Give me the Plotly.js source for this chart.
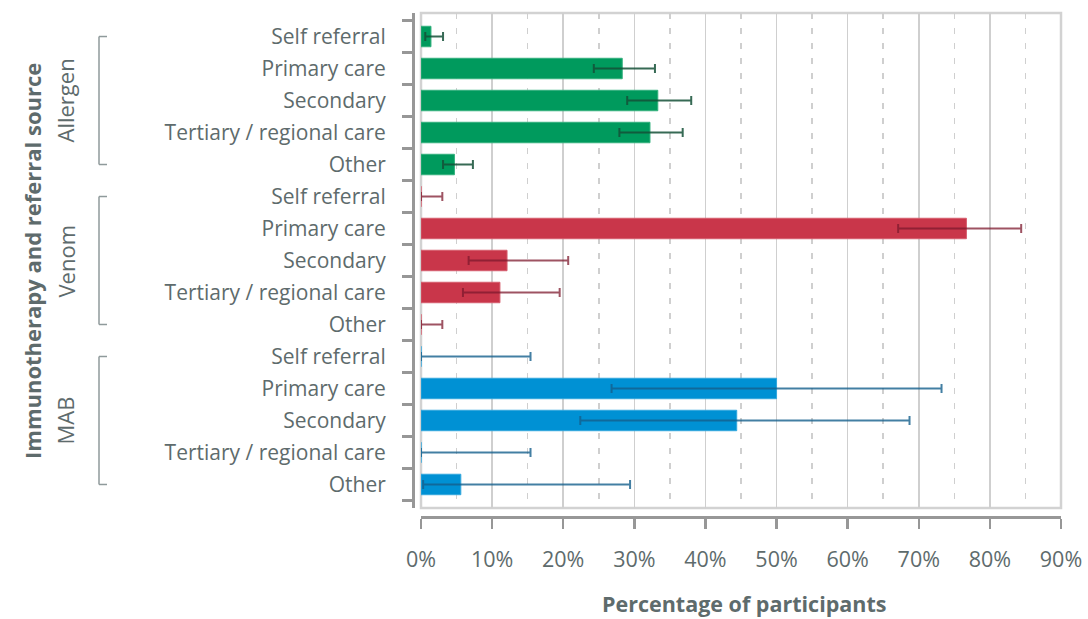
<!DOCTYPE html>
<html>
<head>
<meta charset="utf-8">
<script src="https://cdn.plot.ly/plotly-3.0.1.min.js"></script>
<style>
  html, body { margin: 0; padding: 0; background: #ffffff; }
  #chart { width: 1088px; height: 619px; }
</style>
</head>
<body>
<div id="chart"></div>
<script>
// ---- Data ----
const groups = ["Allergen", "Venom", "MAB"];
const sources = ["Self referral", "Primary care", "Secondary", "Tertiary / regional care", "Other"];

const allergenPct = [1.4, 28.3, 33.3, 32.2, 4.7];
const allergenLo  = [0.6, 24.3, 29.0, 27.9, 3.1];
const allergenHi  = [3.1, 32.9, 38.0, 36.8, 7.3];

const venomPct = [0, 76.7, 12.1, 11.1, 0];
const venomLo  = [0, 67.1, 6.7, 5.9, 0];
const venomHi  = [3.0, 84.4, 20.7, 19.5, 3.0];

const mabPct = [0, 50.0, 44.4, 0, 5.6];
const mabLo  = [0, 26.8, 22.4, 0, 0.3];
const mabHi  = [15.4, 73.2, 68.7, 15.4, 29.4];

const xTickVals = [0, 10, 20, 30, 40, 50, 60, 70, 80, 90];
const xTitle = "Percentage of participants";
const yTitle = "Immunotherapy and referral source";

// ---- Styles ----
const barColors = ["#009a5d", "#c9364a", "#0091d4"];
const barEdge   = ["#33b07d", "#d65e6e", "#33a7dd"];
const errColors = ["rgba(20,80,55,0.85)", "rgba(125,25,45,0.75)", "rgba(20,95,140,0.8)"];
const textColor = "#5e6b6c";
const font = "Open Sans, Noto Sans, sans-serif";

const series = [
  [allergenPct, allergenLo, allergenHi],
  [venomPct, venomLo, venomHi],
  [mabPct, mabLo, mabHi]
];

const keyOf = (g, s) => g + " | " + s;
const allKeys = [];
const allLabels = [];
groups.forEach(g => sources.forEach(s => { allKeys.push(keyOf(g, s)); allLabels.push(s); }));

const traces = groups.map((g, gi) => {
  const [pct, lo, hi] = series[gi];
  return {
    type: "bar",
    orientation: "h",
    name: g,
    y: sources.map(s => keyOf(g, s)),
    x: pct,
    width: 0.64,
    marker: { color: barColors[gi], line: { color: barEdge[gi], width: 1 } },
    error_x: {
      type: "data",
      symmetric: false,
      array: hi.map((v, i) => v - pct[i]),
      arrayminus: pct.map((v, i) => v - lo[i]),
      color: errColors[gi],
      thickness: 2,
      width: 4.5
    },
    hoverinfo: "x+y",
    showlegend: false
  };
});

// Layout geometry (pixels -> paper)
const W = 1088, H = 619;
const mL = 413, mR = 27, mT = 13, mB = 102;
const pw = W - mL - mR, ph = H - mT - mB;
const px = p => (p - mL) / pw;
const py = p => (H - mB - p) / ph;

const shapes = [
  { type: "rect", xref: "x domain", yref: "y domain", x0: 0, x1: 1, y0: 0, y1: 1,
    line: { color: "#d2d2d2", width: 2.5 }, layer: "below" }
];
// group brackets
groups.forEach(g => {
  const first = keyOf(g, sources[0]);
  const last = keyOf(g, sources[sources.length - 1]);
  const bx = px(99), ax = px(107);
  const ln = { color: "#8f9a9b", width: 1.5 };
  shapes.push({ type: "line", xref: "paper", yref: "y", x0: bx, x1: bx, y0: first, y1: last, line: ln });
  shapes.push({ type: "line", xref: "paper", yref: "y", x0: bx, x1: ax, y0: first, y1: first, line: ln });
  shapes.push({ type: "line", xref: "paper", yref: "y", x0: bx, x1: ax, y0: last, y1: last, line: ln });
});

const annotations = groups.map(g => ({
  xref: "paper", yref: "y", x: px(65), y: keyOf(g, sources[2]),
  text: g, textangle: -90, showarrow: false,
  xanchor: "center", yanchor: "middle",
  font: { family: font, size: 22, color: textColor }
}));
annotations.push({
  xref: "paper", yref: "paper", x: px(744), y: py(603),
  text: "<b>" + xTitle + "</b>", showarrow: false, xanchor: "center", yanchor: "middle",
  borderpad: 0,
  font: { family: font, size: 21.5, color: textColor }
});
annotations.push({
  xref: "paper", yref: "paper", x: px(32), y: py(261),
  text: "<b>" + yTitle + "</b>", textangle: -90, showarrow: false, xanchor: "center", yanchor: "middle",
  font: { family: font, size: 22, color: textColor }
});

const n = allKeys.length;
const layout = {
  width: W, height: H,
  margin: { l: mL, r: mR, t: mT, b: mB, pad: 0 },
  paper_bgcolor: "#ffffff",
  plot_bgcolor: "#ffffff",
  barmode: "overlay",
  showlegend: false,
  font: { family: font, color: textColor },
  xaxis: {
    domain: [8 / pw, 1],
    anchor: "free", position: 0,
    range: [0, 90],
    tickmode: "array", tickvals: xTickVals,
    ticktext: xTickVals.map(v => v + "%"),
    showgrid: true, gridcolor: "#cfcfcf", gridwidth: 1.5,
    minor: { dtick: 5, tick0: 0, showgrid: true, gridcolor: "#cfcfcf", gridwidth: 1.5, griddash: "6px,9px", ticks: "" },
    zeroline: false,
    showline: true, linecolor: "#979797", linewidth: 3,
    ticks: "outside", ticklen: 10, tickwidth: 2.5, tickcolor: "#979797",
    ticklabelstandoff: 12,
    tickfont: { family: font, size: 21.5, color: textColor },
    fixedrange: true
  },
  yaxis: {
    domain: [9 / ph, 1],
    anchor: "free", position: 0,
    type: "category",
    categoryorder: "array", categoryarray: allKeys,
    range: [n - 1 + 0.735, -0.735],
    tickmode: "array", tickvals: allKeys, ticktext: allLabels,
    tickson: "boundaries",
    showgrid: false, zeroline: false,
    showline: true, linecolor: "#979797", linewidth: 3,
    ticks: "outside", ticklen: 10, tickwidth: 2.5, tickcolor: "#979797",
    ticklabelstandoff: 22,
    tickfont: { family: font, size: 21, color: textColor },
    fixedrange: true
  },
  shapes: shapes,
  annotations: annotations
};

Plotly.newPlot("chart", traces, layout, { displayModeBar: false, staticPlot: true });
</script>
</body>
</html>
